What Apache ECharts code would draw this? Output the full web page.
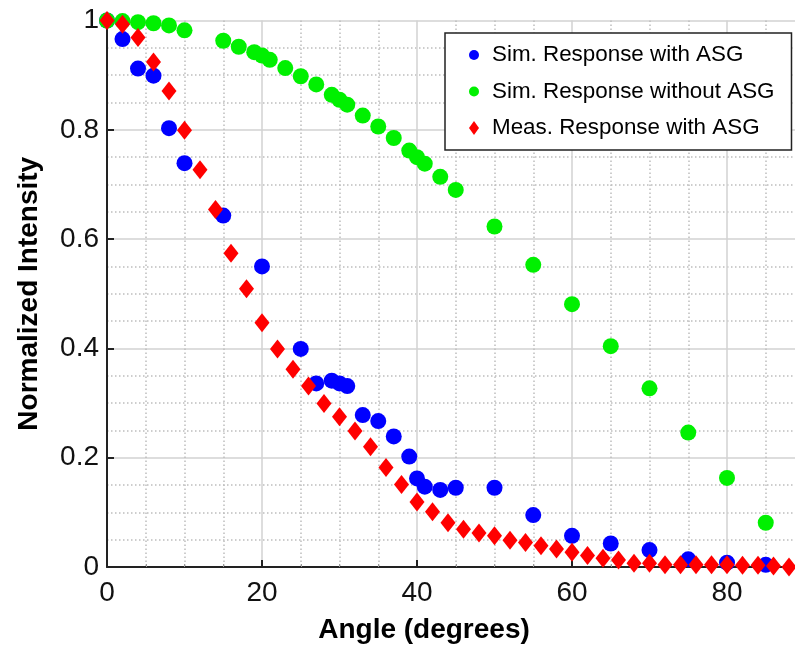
<!DOCTYPE html>
<html>
<head>
<meta charset="utf-8">
<script src="https://cdn.jsdelivr.net/npm/echarts@6/dist/echarts.min.js"></script>
<style>
  html, body { margin: 0; padding: 0; background: #fff; width: 795px; height: 650px; overflow: hidden; }
  /* the plot area runs past the right edge of the page, so the 100° end is off-screen */
  #chart { width: 882px; height: 650px; }
</style>
</head>
<body>
<div id="chart"></div>
<script>
// Angular response of the detector, normalized to 1 at normal incidence
const simAngles = [0, 2, 4, 6, 8, 10, 15, 20, 25, 27, 29, 30, 31, 33, 35, 37, 39, 40, 41, 43, 45, 50, 55, 60, 65, 70, 75, 80, 85];
const simWithAsg = [1.0, 0.966, 0.912, 0.899, 0.803, 0.739, 0.643, 0.550, 0.399, 0.336, 0.341, 0.336, 0.331, 0.278, 0.267, 0.239, 0.202, 0.162, 0.147, 0.141, 0.145, 0.145, 0.095, 0.057, 0.043, 0.031, 0.014, 0.008, 0.004];

const simNoAsgAngles = [0, 2, 4, 6, 8, 10, 15, 17, 19, 20, 21, 23, 25, 27, 29, 30, 31, 33, 35, 37, 39, 40, 41, 43, 45, 50, 55, 60, 65, 70, 75, 80, 85];
const simWithoutAsg = [1.0, 0.999, 0.997, 0.995, 0.991, 0.982, 0.963, 0.952, 0.942, 0.936, 0.928, 0.913, 0.898, 0.883, 0.864, 0.855, 0.846, 0.826, 0.806, 0.785, 0.762, 0.750, 0.738, 0.714, 0.690, 0.623, 0.553, 0.481, 0.404, 0.327, 0.246, 0.163, 0.081];

const measAngles = [0, 2, 4, 6, 8, 10, 12, 14, 16, 18, 20, 22, 24, 26, 28, 30, 32, 34, 36, 38, 40, 42, 44, 46, 48, 50, 52, 54, 56, 58, 60, 62, 64, 66, 68, 70, 72, 74, 76, 78, 80, 82, 84, 86, 88];
const measWithAsg = [1.0, 0.993, 0.969, 0.924, 0.871, 0.799, 0.727, 0.654, 0.574, 0.509, 0.447, 0.399, 0.362, 0.331, 0.299, 0.275, 0.249, 0.220, 0.182, 0.151, 0.119, 0.101, 0.081, 0.069, 0.062, 0.057, 0.049, 0.045, 0.039, 0.033, 0.027, 0.021, 0.016, 0.013, 0.007, 0.007, 0.004, 0.004, 0.004, 0.004, 0.004, 0.003, 0.003, 0.002, 0.0];

const seriesNames = ['Sim. Response with ASG', 'Sim. Response without ASG', 'Meas. Response with ASG'];
const xTitle = 'Angle (degrees)';
const yTitle = 'Normalized Intensity';

const pairs = (xs, ys) => xs.map((x, i) => [x, ys[i]]);
const FONT = '"Liberation Sans", Arial, Helvetica, sans-serif';

const chart = echarts.init(document.getElementById('chart'), null, { renderer: 'canvas' });

const axisCommon = {
  axisLine: { show: true, lineStyle: { color: '#222', width: 2 } },
  axisTick: { show: true, inside: true, length: 7, lineStyle: { color: '#222', width: 2 } },
  minorTick: { show: true, splitNumber: 4, length: 3, lineStyle: { color: '#999', width: 1 } },
  splitLine: { show: true, lineStyle: { color: '#d2d2d2', width: 1.5 } },
  minorSplitLine: { show: true, lineStyle: { color: '#bdbdbd', width: 1.5, type: [1.5, 2.5] } },
  axisLabel: { fontFamily: FONT, fontSize: 28, color: '#111' },
  nameTextStyle: { fontFamily: FONT, fontSize: 28, fontWeight: 'bold', color: '#000' }
};

chart.setOption({
  animation: false,
  backgroundColor: '#fff',
  grid: { left: 107, top: 20.5, right: 0, bottom: 83 },
  xAxis: Object.assign({}, axisCommon, {
    type: 'value',
    min: 0, max: 100, interval: 20,
    axisLabel: Object.assign({}, axisCommon.axisLabel, { margin: 12, showMaxLabel: false })
  }),
  yAxis: Object.assign({}, axisCommon, {
    type: 'value',
    min: 0, max: 1, interval: 0.2,
    name: yTitle,
    nameLocation: 'middle',
    nameGap: 64,
    minorTick: { show: false, splitNumber: 4 },
    axisLabel: Object.assign({}, axisCommon.axisLabel, {
      margin: 8,
      formatter: v => (v === 0 ? '0' : v >= 0.999 ? '1' : v.toFixed(1))
    })
  }),
  // x-axis title, centred under the visible part of the plot
  graphic: [{
    type: 'text',
    x: 424, y: 630,
    style: {
      text: xTitle,
      font: 'bold 28px ' + FONT,
      fill: '#000',
      align: 'center',
      verticalAlign: 'middle'
    }
  }],
  legend: {
    orient: 'vertical',
    left: 445, top: 33,
    padding: [10, 17, 10, 24],
    itemGap: 12.5,
    itemWidth: 10, itemHeight: 14,
    backgroundColor: '#fff',
    borderColor: '#222', borderWidth: 1.5, borderRadius: 0,
    textStyle: { fontFamily: FONT, fontSize: 22.4, color: '#000', lineHeight: 24, padding: [0, 0, 0, 8] },
    data: seriesNames
  },
  series: [
    {
      name: seriesNames[0], type: 'scatter',
      symbol: 'circle', symbolSize: 16,
      itemStyle: { color: '#0000ff', opacity: 1 },
      data: pairs(simAngles, simWithAsg), z: 2
    },
    {
      name: seriesNames[1], type: 'scatter',
      symbol: 'circle', symbolSize: 16,
      itemStyle: { color: '#00f000', opacity: 1 },
      data: pairs(simNoAsgAngles, simWithoutAsg), z: 3
    },
    {
      name: seriesNames[2], type: 'scatter',
      symbol: 'diamond', symbolSize: [15, 19],
      itemStyle: { color: '#ff0000', opacity: 1 },
      data: pairs(measAngles, measWithAsg), z: 4
    }
  ]
});
</script>
</body>
</html>
